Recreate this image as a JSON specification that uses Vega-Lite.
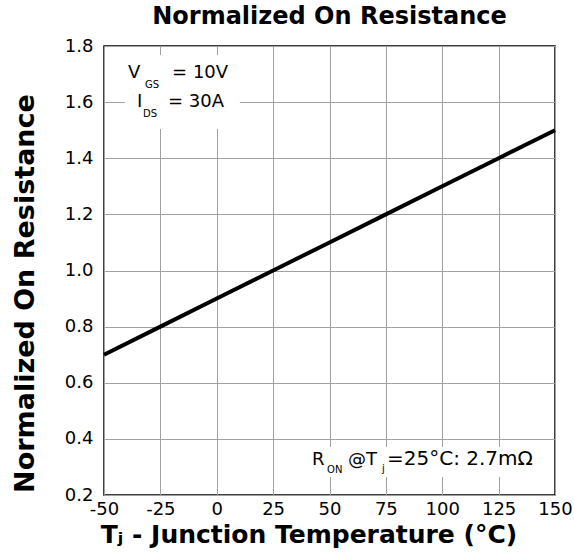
{
  "$schema": "https://vega.github.io/schema/vega-lite/v6.json",
  "width": 451,
  "height": 449,
  "autosize": "none",
  "padding": {"left": 104, "top": 46, "right": 19, "bottom": 61},
  "background": "white",
  "config": {
    "view": {"stroke": "#000", "strokeWidth": 1.5},
    "font": "DejaVu Sans"
  },
  "title": {
    "text": "Normalized On Resistance",
    "font": "DejaVu Sans",
    "fontSize": 24,
    "fontWeight": "bold",
    "color": "#000",
    "anchor": "middle",
    "frame": "group",
    "baseline": "alphabetic",
    "offset": -11
  },
  "datasets": {
    "curve": [
      {"tj": -50, "r": 0.7},
      {"tj": -25, "r": 0.8},
      {"tj": 0, "r": 0.9},
      {"tj": 25, "r": 1.0},
      {"tj": 50, "r": 1.1},
      {"tj": 75, "r": 1.2},
      {"tj": 100, "r": 1.3},
      {"tj": 125, "r": 1.4},
      {"tj": 150, "r": 1.5}
    ],
    "boxes": [
      {"x1": -40.7, "x2": 10.3, "y1": 1.504, "y2": 1.768},
      {"x1": 38.5, "x2": 146.5, "y1": 0.264, "y2": 0.371}
    ],
    "notes": [
      {"x": -39.4, "y": 1.686, "t": "V", "role": "main"},
      {"x": -31.8, "y": 1.652, "t": "GS", "role": "sub"},
      {"x": -19.8, "y": 1.686, "t": "= 10V", "role": "main"},
      {"x": -35.4, "y": 1.583, "t": "I", "role": "main"},
      {"x": -32.7, "y": 1.547, "t": "DS", "role": "sub"},
      {"x": -21.6, "y": 1.583, "t": "= 30A", "role": "main"},
      {"x": 42.2, "y": 0.307, "t": "R", "role": "main"},
      {"x": 48.9, "y": 0.279, "t": "ON", "role": "sub"},
      {"x": 58.2, "y": 0.307, "t": "@T", "role": "main"},
      {"x": 73.3, "y": 0.282, "t": "j", "role": "sub"},
      {"x": 75.5, "y": 0.307, "t": "=25°C: 2.7mΩ", "role": "wide"}
    ]
  },
  "layer": [
    {
      "data": {"name": "curve"},
      "mark": {"type": "line", "color": "#000", "strokeWidth": 4, "strokeCap": "butt"},
      "encoding": {
        "x": {
          "field": "tj",
          "type": "quantitative",
          "title": "Tⱼ - Junction Temperature (°C)",
          "scale": {"domain": [-50, 150], "nice": false, "zero": false},
          "axis": {
            "titleFont": "DejaVu Sans",
            "titleFontSize": 25,
            "titleFontWeight": "bold",
            "titleColor": "#000",
            "titleBaseline": "alphabetic",
            "titleX": 204.5,
            "titleY": 47,
            "values": [-50, -37.5, -25, -12.5, 0, 12.5, 25, 37.5, 50, 62.5, 75, 87.5, 100, 112.5, 125, 137.5, 150],
            "labelExpr": "datum.value % 25 == 0 ? '' + datum.value : ''",
            "labelFontSize": 18,
            "labelColor": "#000",
            "labelPadding": 5,
            "labelFlush": false,
            "labelOverlap": false,
            "ticks": false,
            "domain": false,
            "grid": true,
            "gridColor": "#a0a0a0",
            "gridWidth": 1,
            "gridOpacity": 1
          }
        },
        "y": {
          "field": "r",
          "type": "quantitative",
          "title": "Normalized On Resistance",
          "scale": {"domain": [0.2, 1.8], "nice": false, "zero": false},
          "axis": {
            "titleFont": "DejaVu Sans",
            "titleFontSize": 27,
            "titleFontWeight": "bold",
            "titleColor": "#000",
            "titleAngle": 270,
            "titleBaseline": "alphabetic",
            "titleAlign": "center",
            "titleX": -71,
            "titleY": 247,
            "values": [0.2, 0.3, 0.4, 0.5, 0.6, 0.7, 0.8, 0.9, 1.0, 1.1, 1.2, 1.3, 1.4, 1.5, 1.6, 1.7, 1.8],
            "labelExpr": "round(datum.value * 10) % 2 == 0 ? format(datum.value, '.1f') : ''",
            "labelFontSize": 18,
            "labelColor": "#000",
            "labelPadding": 11,
            "labelFlush": false,
            "labelOverlap": false,
            "ticks": false,
            "domain": false,
            "grid": true,
            "gridColor": "#a0a0a0",
            "gridWidth": 1,
            "gridOpacity": 1
          }
        }
      }
    },
    {
      "data": {"name": "boxes"},
      "mark": {"type": "rect", "fill": "white", "stroke": null},
      "encoding": {
        "x": {"field": "x1", "type": "quantitative", "title": "Tⱼ - Junction Temperature (°C)"},
        "x2": {"field": "x2"},
        "y": {"field": "y1", "type": "quantitative", "title": "Normalized On Resistance"},
        "y2": {"field": "y2"}
      }
    },
    {
      "data": {"name": "notes"},
      "transform": [{"filter": "datum.role == 'main'"}],
      "mark": {"type": "text", "align": "left", "baseline": "alphabetic", "fontSize": 18, "color": "#000", "font": "DejaVu Sans"},
      "encoding": {
        "x": {"field": "x", "type": "quantitative", "title": "Tⱼ - Junction Temperature (°C)"},
        "y": {"field": "y", "type": "quantitative", "title": "Normalized On Resistance"},
        "text": {"field": "t"}
      }
    },
    {
      "data": {"name": "notes"},
      "transform": [{"filter": "datum.role == 'wide'"}],
      "mark": {"type": "text", "align": "left", "baseline": "alphabetic", "fontSize": 20, "color": "#000", "font": "DejaVu Sans"},
      "encoding": {
        "x": {"field": "x", "type": "quantitative", "title": "Tⱼ - Junction Temperature (°C)"},
        "y": {"field": "y", "type": "quantitative", "title": "Normalized On Resistance"},
        "text": {"field": "t"}
      }
    },
    {
      "data": {"name": "notes"},
      "transform": [{"filter": "datum.role == 'sub'"}],
      "mark": {"type": "text", "align": "left", "baseline": "alphabetic", "fontSize": 10, "color": "#000", "font": "DejaVu Sans"},
      "encoding": {
        "x": {"field": "x", "type": "quantitative", "title": "Tⱼ - Junction Temperature (°C)"},
        "y": {"field": "y", "type": "quantitative", "title": "Normalized On Resistance"},
        "text": {"field": "t"}
      }
    }
  ]
}
